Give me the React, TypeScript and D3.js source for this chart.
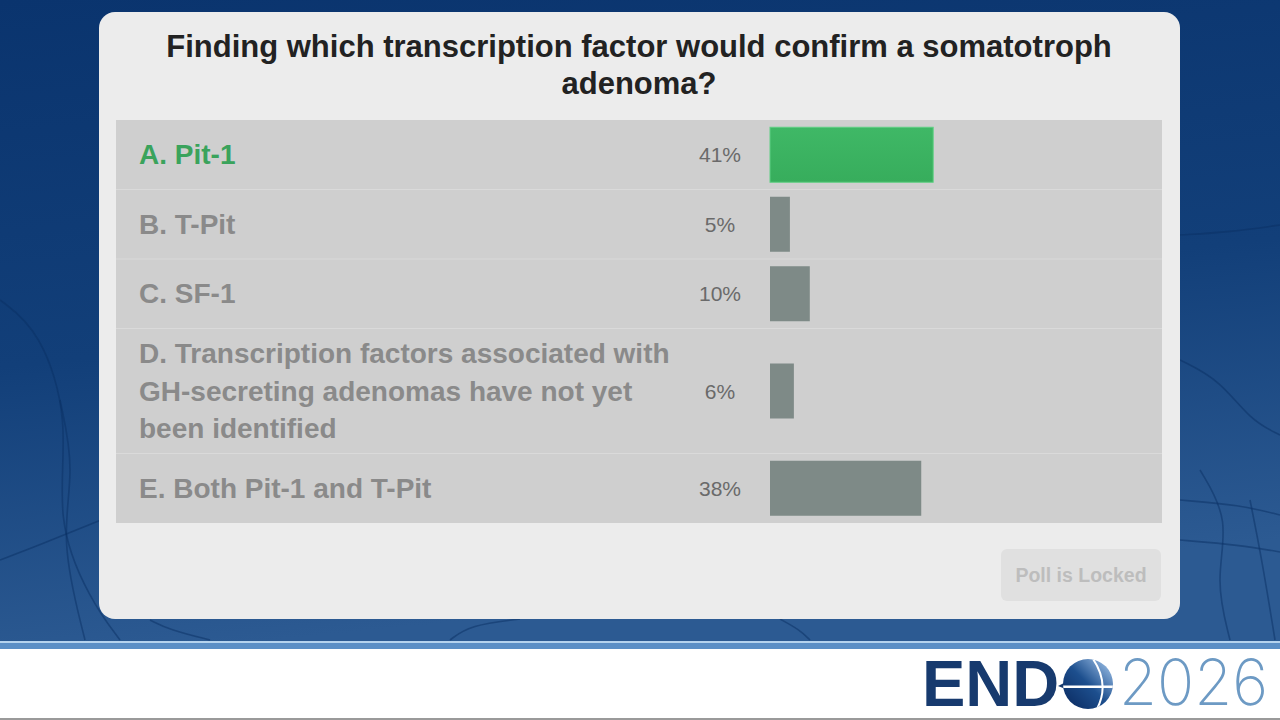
import React from "react";
import * as d3 from "d3";

const question = ["Finding which transcription factor would confirm a somatotroph", "adenoma?"];
const options = [
  ["A. Pit-1"],
  ["B. T-Pit"],
  ["C. SF-1"],
  ["D. Transcription factors associated with", "GH-secreting adenomas have not yet", "been identified"],
  ["E. Both Pit-1 and T-Pit"],
];
const percents = [41, 5, 10, 6, 38];
const correct = [true, false, false, false, false];
const buttonLabel = "Poll is Locked";
const brandWord = "END";
const brandYear = "2026";

const W = 1280;
const H = 720;
const FONT = "'Liberation Sans', Arial, Helvetica, sans-serif";

export default function App() {
  const tableX0 = 116;
  const tableX1 = 1162;
  const tableY0 = 120;
  const baseRow = 69.5;
  const extraLine = 27.75;
  const heights = options.map((o) => baseRow + (o.length - 1) * extraLine);
  const tops: number[] = [];
  heights.reduce((acc, h) => {
    tops.push(acc);
    return acc + h;
  }, tableY0);
  const tableY1 = tops[tops.length - 1] + heights[heights.length - 1];

  const x = d3.scaleLinear().domain([0, 100]).range([770, 1168]);
  const barH = 55;

  // decorative neuron fibres in the background
  const fibre = d3.line().curve(d3.curveBasis);
  const fibres: [number, number][][] = [
    [[0, 300], [40, 330], [70, 420], [55, 520], [90, 600], [120, 640]],
    [[60, 400], [75, 470], [60, 540], [85, 640]],
    [[0, 560], [40, 545], [100, 520], [140, 505]],
    [[1180, 235], [1230, 232], [1280, 225]],
    [[1180, 360], [1220, 380], [1250, 420], [1280, 435]],
    [[1200, 470], [1230, 520], [1215, 580], [1230, 640]],
    [[1180, 500], [1240, 505], [1280, 515]],
    [[1180, 540], [1240, 545], [1280, 552]],
    [[1250, 500], [1262, 560], [1275, 640]],
    [[150, 620], [170, 630], [210, 640]],
    [[450, 640], [470, 625], [520, 619]],
    [[780, 619], [800, 630], [810, 640]],
  ];

  const gx = 1088;
  const gy = 684;
  const gr = 25;

  return (
    <svg width={W} height={H} style={{ position: "absolute", left: 0, top: 0 }} viewBox={`0 0 ${W} ${H}`}>
      <defs>
        <linearGradient id="bg" x1="0" y1="0" x2="0.2" y2="1">
          <stop offset="0" stopColor="#0a346e" />
          <stop offset="0.55" stopColor="#123f79" />
          <stop offset="1" stopColor="#2c5a92" />
        </linearGradient>
        <linearGradient id="green" x1="0" y1="0" x2="0" y2="1">
          <stop offset="0" stopColor="#3fb866" />
          <stop offset="1" stopColor="#37ad5c" />
        </linearGradient>
        <linearGradient id="globe" x1="0.1" y1="0.9" x2="0.9" y2="0.1">
          <stop offset="0" stopColor="#0d2f66" />
          <stop offset="0.5" stopColor="#1d4f8e" />
          <stop offset="1" stopColor="#8fb4de" />
        </linearGradient>
        <clipPath id="globeClip">
          <circle cx={gx} cy={gy} r={gr} />
        </clipPath>
      </defs>

      {/* background */}
      <rect x={0} y={0} width={W} height={642} fill="url(#bg)" />
      <g fill="none" stroke="#0a2f63" strokeOpacity={0.5} strokeWidth={1.6}>
        {fibres.map((f, i) => (
          <path key={i} d={fibre(f) || ""} />
        ))}
      </g>
      <rect x={0} y={641} width={W} height={2} fill="#b5d3ee" />
      <rect x={0} y={643} width={W} height={6} fill="#5b8fc6" />
      <rect x={0} y={649} width={W} height={69} fill="#ffffff" />
      <rect x={0} y={718} width={W} height={2} fill="#9a9a9a" />

      {/* card */}
      <rect x={99} y={12} width={1081} height={607} rx={16} fill="#ececec" />

      {/* title */}
      <g fontFamily={FONT} fontWeight="bold" fontSize={31} fill="#222222" textAnchor="middle">
        {question.map((q, i) => (
          <text key={i} x={639} y={57 + i * 37}>
            {q}
          </text>
        ))}
      </g>

      {/* table */}
      <rect x={tableX0} y={tableY0} width={tableX1 - tableX0} height={tableY1 - tableY0} fill="#cfcfcf" />
      {options.map((o, i) => {
        const top = tops[i];
        const h = heights[i];
        const cy = top + h / 2;
        const isC = correct[i];
        return (
          <g key={i}>
            {i > 0 && <rect x={tableX0} y={top - 0.5} width={tableX1 - tableX0} height={1} fill="#dadada" />}
            <g fontFamily={FONT} fontWeight="bold" fontSize={28} fill={isC ? "#3aa35c" : "#8a8a8a"}>
              {o.map((line, j) => (
                <text key={j} x={139} y={cy + (j - (o.length - 1) / 2) * 37.5 + 9.5}>
                  {line}
                </text>
              ))}
            </g>
            <text x={720} y={cy + 7.5} textAnchor="middle" fontFamily={FONT} fontSize={21} fill="#6a6a6a">
              {percents[i]}%
            </text>
            <rect
              x={x(0)}
              y={cy - barH / 2}
              width={x(percents[i]) - x(0)}
              height={barH}
              fill={isC ? "url(#green)" : "#7e8a87"}
              stroke={isC ? "#5fd083" : "none"}
              strokeWidth={isC ? 1 : 0}
            />
          </g>
        );
      })}

      {/* button */}
      <rect x={1001} y={549} width={160} height={52} rx={6} fill="#e0e0e0" />
      <text x={1081} y={582} textAnchor="middle" fontFamily={FONT} fontWeight="bold" fontSize={19.5} fill="#bdbdbd">
        {buttonLabel}
      </text>

      {/* logo */}
      <text x={922} y={706} fontFamily={FONT} fontWeight="bold" fontSize={65} fill="#173a6e">
        {brandWord}
      </text>
      <path d={`M1058,${gy + 2} L${gx - 10},${gy - 8} L${gx - 10},${gy + 10} Z`} fill="#173a6e" />
      <circle cx={gx} cy={gy} r={gr} fill="url(#globe)" />
      <g clipPath="url(#globeClip)">
        <rect x={gx - gr} y={gy + 1.5} width={gr * 2} height={2.5} fill="#ffffff" />
        <path
          d={`M${gx + 5},${gy - gr} Q${gx + 22},${gy} ${gx + 9},${gy + gr}`}
          fill="none"
          stroke="#ffffff"
          strokeWidth={2}
        />
      </g>
      <g transform="translate(1119,704.5) scale(1.08,1.12)">
        <text x={0} y={0} fontFamily="Inter, 'Open Sans', sans-serif" fontWeight={200} fontSize={57} fill="#6d9ac4">
          {brandYear}
        </text>
      </g>
    </svg>
  );
}
